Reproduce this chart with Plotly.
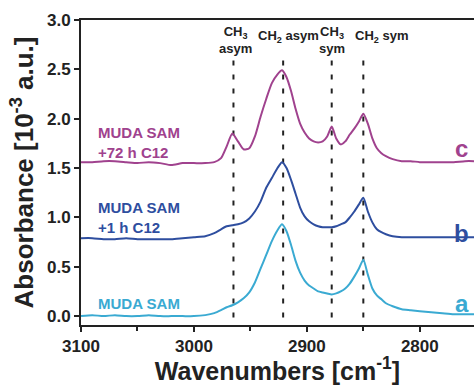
import plotly.graph_objects as go

# ---- data ----
wavenumber = [3100, 3090, 3080, 3070, 3060, 3050, 3040, 3030, 3020, 3010, 3000, 2990,
              2982, 2976, 2971, 2966, 2961, 2956, 2951, 2946, 2941, 2936, 2931, 2926,
              2922, 2918, 2914, 2910, 2906, 2902, 2898, 2894, 2890, 2886, 2882, 2878,
              2874, 2870, 2866, 2862, 2858, 2854, 2850, 2846, 2842, 2838, 2834, 2830,
              2824, 2816, 2808, 2800, 2790, 2780, 2770, 2760, 2750]

abs_c = [1.56, 1.56, 1.57, 1.57, 1.56, 1.55, 1.56, 1.55, 1.53, 1.55, 1.55, 1.55,
         1.56, 1.60, 1.72, 1.85, 1.77, 1.69, 1.70, 1.82, 2.02, 2.20, 2.36, 2.45,
         2.49, 2.42, 2.28, 2.10, 1.95, 1.86, 1.80, 1.77, 1.76, 1.77, 1.82, 1.92,
         1.80, 1.74, 1.77, 1.84, 1.90, 1.97, 2.05, 1.95, 1.80, 1.70, 1.65, 1.62,
         1.59, 1.57, 1.57, 1.56, 1.56, 1.56, 1.56, 1.57, 1.57]

abs_b = [0.79, 0.79, 0.78, 0.78, 0.79, 0.78, 0.78, 0.78, 0.78, 0.79, 0.80, 0.81,
         0.84, 0.88, 0.91, 0.92, 0.93, 0.95, 0.99, 1.06, 1.16, 1.30, 1.40, 1.50,
         1.56, 1.50, 1.38, 1.24, 1.10, 1.01, 0.96, 0.93, 0.91, 0.90, 0.90, 0.90,
         0.91, 0.93, 0.95, 1.00, 1.06, 1.13, 1.20, 1.06, 0.95, 0.88, 0.85, 0.83,
         0.81, 0.80, 0.80, 0.80, 0.80, 0.80, 0.80, 0.80, 0.80]

abs_a = [0.00, 0.01, 0.00, 0.01, 0.00, 0.00, 0.01, 0.00, 0.00, 0.00, 0.00, 0.01,
         0.03, 0.06, 0.09, 0.11, 0.14, 0.18, 0.24, 0.34, 0.48, 0.62, 0.76, 0.87,
         0.93, 0.86, 0.72, 0.56, 0.44, 0.36, 0.31, 0.28, 0.25, 0.24, 0.23, 0.22,
         0.23, 0.25, 0.28, 0.33, 0.40, 0.48, 0.57, 0.42, 0.28, 0.21, 0.17, 0.13,
         0.10, 0.07, 0.06, 0.05, 0.04, 0.03, 0.02, 0.02, 0.02]

series_names = ["MUDA SAM", "MUDA SAM<br>+1 h C12", "MUDA SAM<br>+72 h C12"]
series_letters = ["a", "b", "c"]
series_values = [abs_a, abs_b, abs_c]
series_colors = ["#3AAAD2", "#2E4E9F", "#A0428E"]
name_label_y = [0.13, 1.00, 1.76]
letter_label_y = [0.13, 0.84, 1.70]

peak_positions = [2965, 2921, 2878, 2850]
peak_labels = ["CH<sub>3</sub><br>asym", "CH<sub>2</sub> asym", "CH<sub>3</sub><br>sym", "CH<sub>2</sub> sym"]
peak_label_x = [2963, 2916, 2878, 2834]
peak_label_y = [2.80, 2.83, 2.80, 2.83]

x_ticks = [3100, 3000, 2900, 2800]
y_ticks = [0.0, 0.5, 1.0, 1.5, 2.0, 2.5, 3.0]

FONT = "Liberation Sans"

fig = go.Figure()

for vals, col, nm in zip(series_values, series_colors, series_letters):
    fig.add_trace(go.Scatter(x=wavenumber, y=vals, mode="lines", name=nm,
                             line=dict(color=col, width=2, shape="spline", smoothing=0.6),
                             showlegend=False, hoverinfo="skip"))

for px in peak_positions:
    fig.add_shape(type="line", xref="x", yref="y", x0=px, x1=px, y0=2.59, y1=-0.09,
                  line=dict(color="#222222", width=2, dash="5px,9px"), layer="below")

annotations = []
for lbl, lx, ly in zip(peak_labels, peak_label_x, peak_label_y):
    annotations.append(dict(x=lx, y=ly, xref="x", yref="y", text="<b>" + lbl + "</b>",
                            showarrow=False, xanchor="center", yanchor="middle",
                            font=dict(family=FONT, size=13, color="#222222")))

for nm, ly, col in zip(series_names, name_label_y, series_colors):
    annotations.append(dict(x=3087, y=ly, xref="x", yref="y", text="<b>" + nm + "</b>",
                            showarrow=False, xanchor="left", yanchor="middle", align="left",
                            font=dict(family=FONT, size=15, color=col)))

for lt, ly, col in zip(series_letters, letter_label_y, series_colors):
    annotations.append(dict(x=2763, y=ly, xref="x", yref="y", text="<b>" + lt + "</b>",
                            showarrow=False, xanchor="center", yanchor="middle",
                            font=dict(family=FONT, size=24, color=col)))

fig.update_layout(
    width=474, height=385,
    margin=dict(l=81, r=0, t=20, b=60),
    paper_bgcolor="white", plot_bgcolor="white",
    font=dict(family=FONT, color="#222222"),
    annotations=annotations,
    xaxis=dict(range=[3100, 2752], tickvals=x_ticks, ticktext=["<b>%d</b>" % v for v in x_ticks],
               ticks="outside", ticklen=5, tickwidth=1.5, tickcolor="#222222",
               minor=dict(dtick=50, tick0=3100, ticks="outside", ticklen=4, tickwidth=1.5, tickcolor="#222222"),
               showline=True, linecolor="#222222", linewidth=2, mirror=True,
               showgrid=False, zeroline=False,
               tickfont=dict(family=FONT, size=17, color="#222222"),
               title=dict(text="<b>Wavenumbers [cm<sup>-1</sup>]</b>", standoff=2,
                          font=dict(family=FONT, size=25, color="#222222"))),
    yaxis=dict(range=[-0.09, 3.0], tickvals=y_ticks, ticktext=["<b>%.1f</b>" % v for v in y_ticks],
               ticks="outside", ticklen=5, tickwidth=1.5, tickcolor="#222222",
               showline=True, linecolor="#222222", linewidth=2,
               showgrid=False, zeroline=False,
               tickfont=dict(family=FONT, size=17, color="#222222"),
               title=dict(text="<b>Absorbance [10<sup>-3</sup> a.u.]</b>", standoff=6,
                          font=dict(family=FONT, size=26, color="#222222"))),
)

fig.write_html("out.html")
